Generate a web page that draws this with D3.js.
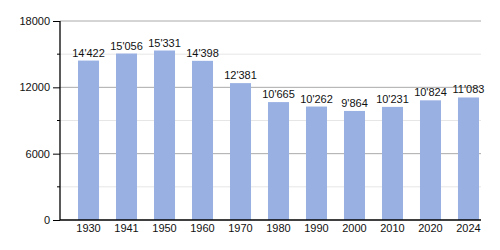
<!DOCTYPE html>
<html>
<head>
<meta charset="utf-8">
<script src="https://cdn.jsdelivr.net/npm/d3@7"></script>
<style>
  body { margin: 0; background: #fff; }
  svg { display: block; font-family: "Liberation Sans", Arial, sans-serif; }
</style>
</head>
<body>
<div class="chart"></div>
<script>
// data
const years = ["1930", "1941", "1950", "1960", "1970", "1980", "1990", "2000", "2010", "2020", "2024"];
const population = [14422, 15056, 15331, 14398, 12381, 10665, 10262, 9864, 10231, 10824, 11083];
const majorTicks = [0, 6000, 12000, 18000];
const minorTicks = [3000, 9000, 15000];

const width = 500, height = 250;
const plotLeft = 60, plotRight = 481, plotTop = 21, plotBottom = 220;

const svg = d3.select(".chart").append("svg")
    .attr("width", width)
    .attr("height", height);

const y = d3.scaleLinear().domain([0, 18000]).range([plotBottom, plotTop]);

const x = d3.scaleBand()
    .domain(years)
    .range([60, 497])
    .paddingInner(0.447)
    .paddingOuter(0.474);

// soft edge on bars
const defs = svg.append("defs");
defs.append("filter").attr("id", "soft")
    .append("feGaussianBlur").attr("stdDeviation", "0.6 0");

// grid
svg.append("g").selectAll("line")
    .data(minorTicks)
    .enter().append("line")
    .attr("x1", plotLeft).attr("x2", plotRight)
    .attr("y1", d => y(d)).attr("y2", d => y(d))
    .attr("stroke", "#e6e6e6");

svg.append("g").selectAll("line")
    .data(majorTicks.filter(d => d > 0))
    .enter().append("line")
    .attr("x1", plotLeft).attr("x2", plotRight)
    .attr("y1", d => y(d)).attr("y2", d => y(d))
    .attr("stroke", "#aaaaaa");

// bars
svg.append("g").selectAll("rect")
    .data(population)
    .enter().append("rect")
    .attr("x", (d, i) => x(years[i]))
    .attr("y", d => y(d))
    .attr("width", x.bandwidth())
    .attr("height", d => plotBottom - y(d))
    .attr("fill", "#99b0e3")
    .attr("filter", "url(#soft)");

// value labels
const fmt = d3.formatLocale({decimal: ".", thousands: "'", grouping: [3], currency: ["", ""]}).format(",d");
svg.append("g").selectAll("text")
    .data(population)
    .enter().append("text")
    .attr("x", (d, i) => x(years[i]) + x.bandwidth() / 2)
    .attr("y", d => y(d) - 4)
    .attr("text-anchor", "middle")
    .attr("font-size", 11)
    .attr("fill", "#111")
    .text(d => fmt(d));

// y axis
const yAxis = d3.axisLeft(y).tickValues(majorTicks).tickSize(7).tickFormat(d3.format("d"));
const gy = svg.append("g")
    .attr("transform", "translate(" + plotLeft + ",0)")
    .call(yAxis);
gy.selectAll("text").attr("font-size", 11).attr("fill", "#111").attr("x", -10);
gy.selectAll("line").attr("stroke", "#000");
gy.select(".domain").remove();

svg.append("g").selectAll("line")
    .data(minorTicks)
    .enter().append("line")
    .attr("x1", plotLeft - 3).attr("x2", plotLeft)
    .attr("y1", d => y(d)).attr("y2", d => y(d))
    .attr("stroke", "#000");

svg.append("line")
    .attr("x1", plotLeft).attr("x2", plotLeft)
    .attr("y1", plotTop).attr("y2", plotBottom)
    .attr("stroke", "#000").attr("stroke-width", 1.3);

// x axis
svg.append("line")
    .attr("x1", plotLeft).attr("x2", plotRight)
    .attr("y1", plotBottom).attr("y2", plotBottom)
    .attr("stroke", "#000").attr("stroke-width", 1.3);

svg.append("g").selectAll("text")
    .data(years)
    .enter().append("text")
    .attr("x", d => x(d) + x.bandwidth() / 2)
    .attr("y", plotBottom + 12)
    .attr("text-anchor", "middle")
    .attr("font-size", 11)
    .attr("fill", "#111")
    .text(d => d);
</script>
</body>
</html>
